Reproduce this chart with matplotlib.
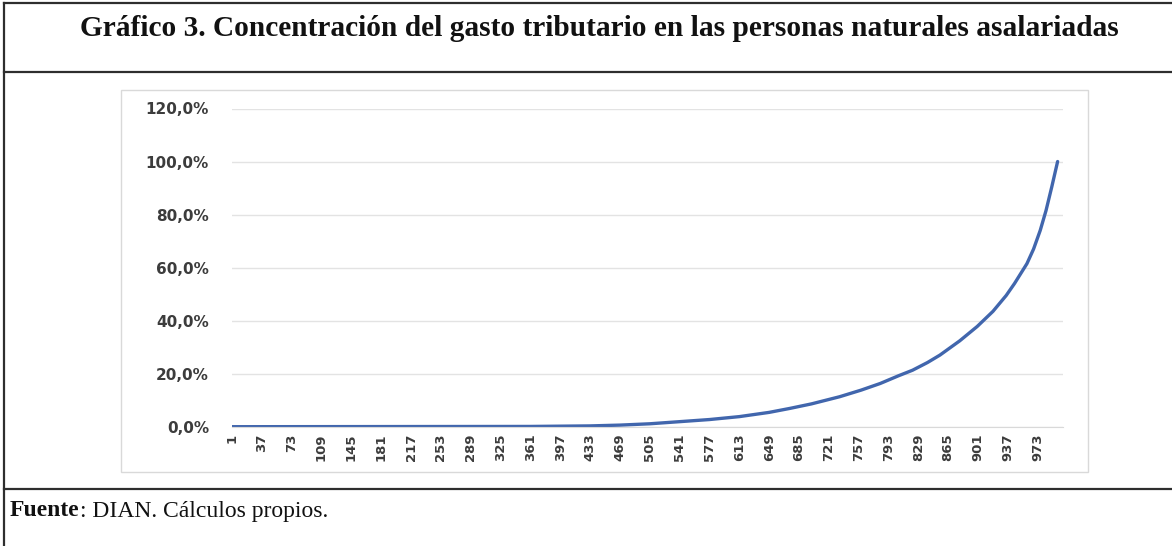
import matplotlib
matplotlib.use("Agg")
import matplotlib.pyplot as plt
from matplotlib.lines import Line2D
from matplotlib.patches import Rectangle

W, H = 1172, 546

# datos (percentil de contribuyentes, % acumulado del gasto)
posiciones = [1, 361, 433, 469, 505, 541, 577, 613, 649, 674, 700, 734, 760, 783,
              805, 822, 840, 855, 879, 900, 919, 935, 945, 952, 960, 968, 976, 983, 990, 997]
acumulado = [0.0, 0.1, 0.3, 0.6, 1.1, 1.9, 2.7, 3.8, 5.4, 6.9, 8.6, 11.3, 13.8, 16.3,
             19.2, 21.3, 24.2, 27.0, 32.4, 37.8, 43.5, 49.5, 54.0, 57.5, 61.5, 67.0, 74.0,
             81.5, 90.5, 100.0]
y_ticks = [0, 20, 40, 60, 80, 100, 120]
y_labels = ['0,0%', '20,0%', '40,0%', '60,0%', '80,0%', '100,0%', '120,0%']
x_ticks = list(range(1, 1000, 36))

titulo = 'Gráfico 3. Concentración del gasto tributario en las personas naturales asalariadas'

fig = plt.figure(figsize=(W / 100, H / 100), dpi=100)
fig.patch.set_facecolor('white')

def px(x, y):
    # pixeles (origen arriba a la izquierda) -> fraccion de figura
    return x / W, 1 - y / H

# marco tipo tabla
lc = '#2e2e2e'
for yy in (3, 72, 489):
    fig.add_artist(Line2D([4 / W, 1], [1 - yy / H] * 2, color=lc, lw=1.6))
fig.add_artist(Line2D([4 / W] * 2, [1 - 3 / H, 0], color=lc, lw=1.6))

# borde del grafico de excel
x0, y0 = px(121, 472)
fig.add_artist(Rectangle((x0, y0), (1088 - 121) / W, (472 - 90) / H,
                         transform=fig.transFigure, fill=False,
                         edgecolor='#d9d9d9', lw=1.0))

tx, ty = px(599, 28)
fig.text(tx, ty, titulo, ha='center', va='center', fontsize=21.2,
         fontweight='bold', family='Liberation Serif', color='#111111')

sx, sy = px(10, 511)
t1 = fig.text(sx, sy, 'Fuente', ha='left', va='center', fontsize=17,
              fontweight='bold', family='Liberation Serif', color='#111111')
fig.canvas.draw()
bb = t1.get_window_extent()
fig.text(bb.x1 / W, sy, ': DIAN. Cálculos propios.', ha='left', va='center',
         fontsize=17, family='Liberation Serif', color='#111111')

# area de trazado
left = 231.6 / W
right = 1063 / W
bottom = 1 - 426.7 / H
top = 1 - 108.5 / H
ax = fig.add_axes([left, bottom, right - left, top - bottom])
ax.plot(posiciones, acumulado, color='#4166ad', lw=2.4, solid_capstyle='round')
ax.set_xlim(0.5, 1003.5)
ax.set_ylim(0, 120)
ax.set_yticks(y_ticks)
ax.set_yticklabels(y_labels, fontsize=11, fontweight='bold',
                   family='DejaVu Sans', color='#3c3c3c')
ax.set_xticks(x_ticks)
ax.set_xticklabels([str(v) for v in x_ticks], rotation=90, fontsize=9.5,
                   fontweight='bold', family=['Liberation Sans Narrow', 'DejaVu Sans'],
                   color='#3c3c3c')
ax.tick_params(axis='both', length=0)
ax.tick_params(axis='y', pad=16.3)
ax.tick_params(axis='x', pad=5)
ax.grid(axis='y', color='#e3e3e3', lw=1.0)
ax.set_axisbelow(True)
for s in ['top', 'right', 'left']:
    ax.spines[s].set_visible(False)
ax.spines['bottom'].set_color('#d9d9d9')
ax.patch.set_alpha(0)

fig.savefig('out.png', dpi=100, facecolor='white')
